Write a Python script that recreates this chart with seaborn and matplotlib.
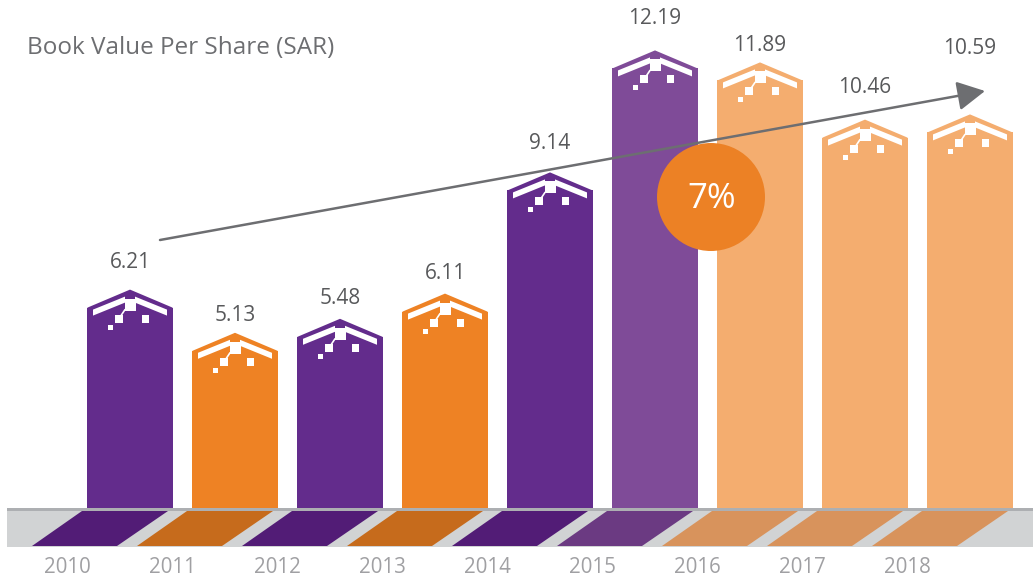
import numpy as np
import pandas as pd
import matplotlib
matplotlib.use("Agg")
import matplotlib.pyplot as plt
from matplotlib.patches import Polygon, Rectangle, Ellipse, FancyArrowPatch
import seaborn as sns

# data
years = ["2010", "2011", "2012", "2013", "2014", "2015", "2016", "2017", "2018"]
values = [6.21, 5.13, 5.48, 6.11, 9.14, 12.19, 11.89, 10.46, 10.59]
cagr_label = "7%"
title = "Book Value Per Share (SAR)"

# colours per bar, and the darker tone for the floor strip
bar_colors = ["#632C8C", "#EE8224", "#632C8C", "#EE8224", "#632C8C",
              "#7F4B98", "#F4AD6F", "#F4AD6F", "#F4AD6F"]
floor_colors = ["#521C76", "#C66B1C", "#521C76", "#C66B1C", "#521C76",
                "#6B3A82", "#D8935C", "#D8935C", "#D8935C"]
# label lift above the roof peak (px)
label_lift = [27, 17, 20, 20, 29, 32, 17, 32, 66]

sns.set_theme(style="white")
plt.rcParams["font.family"] = ["Open Sans", "DejaVu Sans"]

W, H = 1033, 576
fig = plt.figure(figsize=(W / 100, H / 100), dpi=100)
ax = fig.add_axes([0, (H - 547) / H, 1, 547 / H])

df = pd.DataFrame({"year": years, "value": values})
sns.barplot(data=df, x="year", y="value", hue="year", palette=bar_colors,
            legend=False, width=0.81, saturation=1, linewidth=0, ax=ax, zorder=2)

# px -> data scale (bar pitch 105px, 40px per SAR)
sx = 1 / 105
sy = 1 / 40
ax.set_xlim(-130 * sx, (W - 130) * sx)
ax.set_ylim(1.2 - 39 * sy, 1.2 + 508 * sy)
roof_h = 18


def roof(cx, top, color):
    P = lambda dx, dy: (cx + dx * sx, top + dy * sy)
    ax.add_patch(Polygon([P(-42.5, -2), P(-42.5, 0), P(0, roof_h), P(42.5, 0), P(42.5, -2)],
                         closed=True, fc=color, ec="none", lw=0, zorder=3))
    white = dict(fc="white", ec="none", lw=0, zorder=4)
    # chevron arms
    ax.add_patch(Polygon([P(-37, -2), P(-5, 11), P(-5, 5), P(-37, -8)], closed=True, **white))
    ax.add_patch(Polygon([P(37, -2), P(5, 11), P(5, 5), P(37, -8)], closed=True, **white))
    # centre block and the little squares
    ax.add_patch(Rectangle(P(-5, -3), 11 * sx, 12 * sy, **white))
    ax.plot([cx - 5 * sx, cx - 9 * sx], [top - 2 * sy, top - 8 * sy], color="white", lw=1.2, zorder=4)
    ax.add_patch(Rectangle(P(-15, -15), 8 * sx, 8 * sy, **white))
    ax.add_patch(Rectangle(P(12, -15), 7 * sx, 8 * sy, **white))
    ax.add_patch(Rectangle(P(-22, -22), 5 * sx, 5 * sy, **white))


for i, (v, c) in enumerate(zip(values, bar_colors)):
    roof(i, v, c)
    ax.annotate(f"{v:.2f}", (i, v + roof_h * sy), xytext=(0, label_lift[i] * 0.72),
                textcoords="offset points", ha="center", va="center",
                fontsize=15, color="#58595B", zorder=6)

# floor strip
ax.add_patch(Rectangle((-123 * sx, 1.2 - 39 * sy), (W - 7) * sx, 36 * sy,
                       fc="#D1D3D4", ec="none", lw=0, zorder=5))
ax.add_patch(Rectangle((-123 * sx, 1.2 - 3 * sy), (W - 7) * sx, 3 * sy,
                       fc="#ADAFB2", ec="none", lw=0, zorder=5))
for i, c in enumerate(floor_colors):
    yt, yb = 1.2 - 3 * sy, 1.2 - 38 * sy
    ax.add_patch(Polygon([(i - 48 * sx, yt), (i + 38 * sx, yt), (i - 13 * sx, yb), (i - 98 * sx, yb)],
                         closed=True, fc=c, ec="none", lw=0, zorder=6))

ax.set_xticks(np.arange(len(years)) - 63 * sx)
ax.set_xticklabels(years, fontsize=14.8, color="#A0A0A3")
ax.tick_params(axis="x", length=0, pad=7)
ax.set_yticks([])
ax.set_xlabel("")
ax.set_ylabel("")
sns.despine(ax=ax, left=True, bottom=True)

fig.text(27 / W, 1 - 48 / H, title, ha="left", va="center", fontsize=17.5, color="#6D6E71")

# growth arrow and badge
fig.add_artist(Ellipse((711 / W, 1 - 197 / H), 108 / W, 108 / H, transform=fig.transFigure,
                       fc="#EC8125", ec="none", zorder=5))
fig.text(712 / W, 1 - 199 / H, cagr_label, ha="center", va="center", fontsize=25,
         color="white", zorder=7)
fig.add_artist(FancyArrowPatch((160 / W, 1 - 240 / H), (985 / W, 1 - 91 / H),
                               transform=fig.transFigure,
                               arrowstyle="-|>,head_length=0.85,head_width=0.45",
                               mutation_scale=20, lw=1.8, color="#6D6E71",
                               shrinkA=0, shrinkB=0, zorder=6))

fig.savefig("out.png", dpi=100)
